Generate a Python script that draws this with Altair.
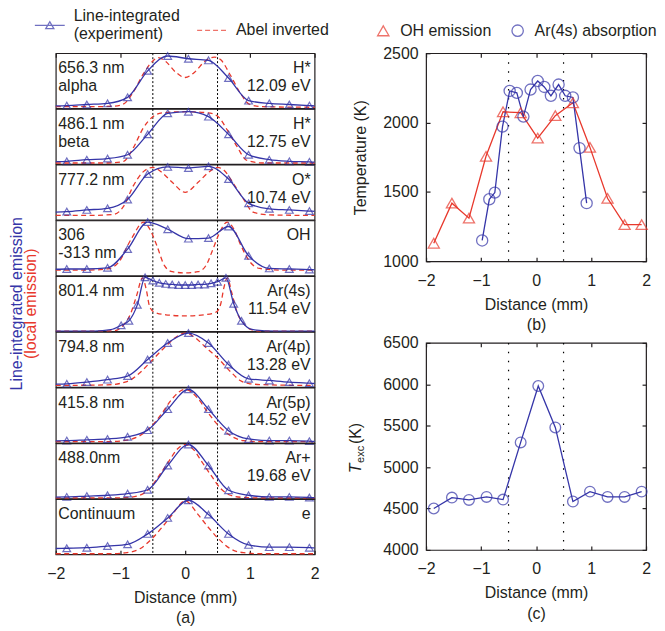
import altair as alt
import pandas as pd

FONT = "Liberation Sans"
INK = "#231f20"
BLUE = "#3535a8"
RED = "#e8382c"

x_ticks = [-2, -1, 0, 1, 2]
guide_x = [-0.5, 0.5]

LINE_LABEL = "Line-integrated (experiment)"
ABEL_LABEL = "Abel inverted"
OH_LABEL = "OH emission"
AR_LABEL = "Ar(4s) absorption"

left_labels = [["656.3 nm", "alpha"], ["486.1 nm", "beta"], ["777.2 nm"], ["306", "-313 nm"],
               ["801.4 nm"], ["794.8 nm"], ["415.8 nm"], ["488.0nm"], ["Continuum"]]
right_labels = [["H*", "12.09 eV"], ["H*", "12.75 eV"], ["O*", "10.74 eV"], ["OH"],
                ["Ar(4s)", "11.54  eV"], ["Ar(4p)", "13.28 eV"], ["Ar(5p)", "14.52 eV"],
                ["Ar+", "19.68 eV"], ["e"]]

# marker positions (mm) of the line-integrated profiles
marker_x = [-1.83, -1.52, -1.2, -0.89, -0.58, -0.27, 0.05, 0.36, 0.67, 0.98, 1.3, 1.61, 1.92]
marker_x_ar4s = [-0.99, -0.87, -0.74, -0.62, -0.5, -0.4, -0.3, -0.2, -0.1, 0.0, 0.1, 0.2,
                 0.3, 0.4, 0.5, 0.63, 0.75, 0.87]

# line-integrated (normalised) values at the markers
blue_656 = [0.05, 0.07, 0.09, 0.2, 0.68, 0.95, 0.9, 0.87, 0.55, 0.14, 0.09, 0.07, 0.05]
blue_486 = [0.05, 0.08, 0.1, 0.17, 0.54, 0.92, 0.95, 0.86, 0.54, 0.17, 0.08, 0.05, 0.04]
blue_777 = [0.15, 0.18, 0.21, 0.37, 0.83, 0.96, 0.94, 0.97, 0.74, 0.3, 0.2, 0.18, 0.16]
blue_oh = [0.12, 0.12, 0.14, 0.48, 0.97, 0.84, 0.67, 0.68, 0.89, 0.36, 0.13, 0.12, 0.11]
blue_801 = [0.11, 0.19, 0.48, 0.98, 0.92, 0.88, 0.86, 0.85, 0.84, 0.84, 0.84, 0.85, 0.85,
            0.87, 0.9, 0.97, 0.5, 0.19]
blue_794 = [0.06, 0.09, 0.135, 0.2, 0.5, 0.8, 0.98, 0.8, 0.41, 0.15, 0.12, 0.09, 0.07]
blue_415 = [0.04, 0.055, 0.07, 0.11, 0.23, 0.61, 0.97, 0.61, 0.22, 0.07, 0.04, 0.04, 0.03]
blue_488 = [0.03, 0.045, 0.06, 0.09, 0.16, 0.6, 0.98, 0.6, 0.15, 0.06, 0.03, 0.03, 0.02]
blue_cont = [0.11, 0.12, 0.15, 0.18, 0.37, 0.66, 0.98, 0.72, 0.37, 0.17, 0.13, 0.13, 0.12]

# line-only points of the experimental curves (beyond the markers)
blue_extra_x = [[-2, 2], [-2, 2], [-2, 2], [-2, 2], [-2, -1.4, -1.15, 1.05, 1.4, 2],
                [-2, 2], [-2, 2], [-2, 2], [-2, 2]]
blue_extra_v = [[0.045, 0.045], [0.045, 0.035], [0.14, 0.155], [0.115, 0.105],
                [0.005, 0.005, 0.03, 0.03, 0.005, 0.005],
                [0.055, 0.065], [0.035, 0.025], [0.025, 0.015], [0.105, 0.115]]

# Abel inverted curves
red_x_656 = [-2, -1.5, -1.1, -0.95, -0.8, -0.65, -0.5, -0.42, -0.3, -0.15, 0, 0.15, 0.3, 0.45, 0.55, 0.7, 0.85, 1.0, 1.2, 2]
red_v_656 = [0.03, 0.03, 0.04, 0.08, 0.3, 0.62, 0.86, 0.92, 0.85, 0.66, 0.56, 0.66, 0.85, 0.93, 0.88, 0.6, 0.28, 0.07, 0.03, 0.02]
red_x_486 = [-2, -1.2, -0.95, -0.8, -0.65, -0.5, -0.35, 0, 0.35, 0.5, 0.65, 0.8, 0.95, 1.2, 2]
red_v_486 = [0.02, 0.02, 0.05, 0.3, 0.65, 0.86, 0.93, 0.95, 0.93, 0.87, 0.62, 0.32, 0.07, 0.02, 0.02]
red_x_777 = [-2, -1.5, -1.1, -0.95, -0.8, -0.65, -0.5, -0.35, -0.2, 0, 0.2, 0.35, 0.5, 0.6, 0.75, 0.9, 1.05, 1.3, 2]
red_v_777 = [0.08, 0.08, 0.1, 0.25, 0.62, 0.87, 0.95, 0.85, 0.68, 0.5, 0.68, 0.85, 0.95, 0.9, 0.65, 0.38, 0.14, 0.09, 0.08]
red_x_oh = [-2, -1.5, -1.2, -1.03, -0.83, -0.64, -0.55, -0.44, -0.32, -0.2, 0, 0.2, 0.32, 0.42, 0.52, 0.65, 0.75, 0.86, 1.0, 1.15, 1.5, 2]
red_v_oh = [0.1, 0.1, 0.12, 0.24, 0.67, 0.97, 0.85, 0.55, 0.18, 0.07, 0.05, 0.07, 0.18, 0.45, 0.75, 0.97, 0.85, 0.55, 0.25, 0.13, 0.1, 0.1]
red_x_801 = [-2, -1.3, -1.1, -0.95, -0.85, -0.75, -0.66, -0.6, -0.55, -0.48, -0.3, 0, 0.3, 0.48, 0.55, 0.6, 0.65, 0.72, 0.8, 0.9, 1.0, 1.15, 2]
red_v_801 = [0.005, 0.005, 0.01, 0.12, 0.3, 0.65, 0.97, 0.75, 0.45, 0.35, 0.3, 0.28, 0.3, 0.35, 0.5, 0.8, 0.97, 0.7, 0.35, 0.15, 0.04, 0.005, 0.005]
red_x_794 = [-2, -1.2, -0.9, -0.7, -0.5, -0.3, -0.15, 0, 0.15, 0.3, 0.5, 0.7, 0.85, 1.0, 1.3, 2]
red_v_794 = [0.03, 0.04, 0.1, 0.26, 0.5, 0.74, 0.9, 0.98, 0.9, 0.74, 0.53, 0.28, 0.12, 0.06, 0.04, 0.03]
red_x_415 = [-2, -1.2, -0.9, -0.7, -0.5, -0.35, -0.2, 0, 0.2, 0.35, 0.5, 0.7, 0.9, 1.2, 2]
red_v_415 = [0.02, 0.02, 0.05, 0.13, 0.33, 0.55, 0.8, 0.97, 0.8, 0.55, 0.33, 0.13, 0.04, 0.02, 0.02]
red_x_488 = [-2, -1.2, -0.9, -0.7, -0.55, -0.4, -0.25, -0.12, 0, 0.12, 0.25, 0.4, 0.55, 0.7, 0.9, 1.2, 2]
red_v_488 = [0.01, 0.01, 0.02, 0.06, 0.18, 0.42, 0.68, 0.9, 0.98, 0.9, 0.68, 0.42, 0.18, 0.06, 0.02, 0.01, 0.01]
red_x_cont = [-2, -1.2, -0.9, -0.7, -0.5, -0.35, -0.2, 0, 0.2, 0.35, 0.5, 0.7, 0.9, 1.2, 2]
red_v_cont = [0.01, 0.01, 0.03, 0.1, 0.3, 0.5, 0.72, 0.97, 0.72, 0.5, 0.3, 0.1, 0.03, 0.01, 0.01]

# panel (b)
oh_x = [-1.86, -1.53, -1.22, -0.91, -0.6, -0.28, 0.03, 0.35, 0.67, 0.98, 1.3, 1.61, 1.92]
oh_T = [1130, 1419, 1311, 1757, 2078, 2071, 1888, 2050, 2143, 1821, 1454, 1264, 1264]
ar_x = [-0.98, -0.85, -0.75, -0.61, -0.48, -0.35, -0.23, -0.10, 0.03, 0.15, 0.27, 0.41, 0.53, 0.67, 0.79, 0.92]
ar_T = [1150, 1447, 1495, 1971, 2228, 2214, 2043, 2238, 2300, 2257, 2193, 2274, 2193, 2181, 1816, 1419]
b_ticks = [1000, 1500, 2000, 2500]

# panel (c)
texc_x = [-1.86, -1.53, -1.22, -0.9, -0.6, -0.28, 0.04, 0.35, 0.67, 0.98, 1.3, 1.61, 1.92]
texc_T = [4500, 4632, 4604, 4640, 4608, 5298, 5980, 5479, 4584, 4704, 4640, 4640, 4704]
c_ticks = [4000, 4500, 5000, 5500, 6000, 6500]

marker_sets = [marker_x, marker_x, marker_x, marker_x, marker_x_ar4s, marker_x, marker_x, marker_x, marker_x]
blue_sets = [blue_656, blue_486, blue_777, blue_oh, blue_801, blue_794, blue_415, blue_488, blue_cont]
red_sets = [(red_x_656, red_v_656), (red_x_486, red_v_486), (red_x_777, red_v_777), (red_x_oh, red_v_oh),
            (red_x_801, red_v_801), (red_x_794, red_v_794), (red_x_415, red_v_415), (red_x_488, red_v_488),
            (red_x_cont, red_v_cont)]

W = 260
H = 55.4
XSCALE = alt.Scale(domain=[-2, 2], nice=False, zero=False)
VSCALE = alt.Scale(domain=[0, 1], nice=False, zero=False)

TRI_LINE = "M-1,0H1M-0.27,0.22L0,-0.24L0.27,0.22Z"
DASH_LINE = "M-1,0H1"


def x_axis(title):
    return alt.Axis(values=x_ticks, format="d", title=title, offset=-4, tickSize=4, tickColor=INK,
                    tickWidth=1.2, labelPadding=11, titlePadding=8, titleLineHeight=21, domain=False,
                    grid=False, labelFlush=False)


def mirror_axis(orient, values):
    # inward ticks on the top / right frame edges, no labels
    return alt.Axis(orient=orient, values=values, labels=False, title=None, offset=-4, tickSize=4,
                    tickColor=INK, tickWidth=1.2, domain=False, grid=False)


def left_panel(i):
    if i == 8:
        ax = x_axis(["Distance (mm)", "(a)"])
    elif i == 0:
        ax = mirror_axis("top", x_ticks)
    else:
        ax = None
    xe = alt.X("x:Q", scale=XSCALE, axis=ax)
    ye = alt.Y("v:Q", scale=VSCALE, axis=None)
    mx, mv = marker_sets[i], blue_sets[i]
    bl = pd.DataFrame({"x": mx + blue_extra_x[i], "v": mv + blue_extra_v[i]}).sort_values("x")
    mk = pd.DataFrame({"x": mx, "v": mv})
    rd = pd.DataFrame({"x": red_sets[i][0], "v": red_sets[i][1]})
    gd = pd.DataFrame({"x": guide_x})

    layers = [
        alt.Chart(gd).mark_rule(color="black", strokeDash=[2, 2], strokeWidth=1).encode(x=xe),
        alt.Chart(rd).mark_line(color=RED, strokeDash=[5, 3.5], strokeWidth=1.3,
                                interpolate="monotone").encode(x=xe, y=ye),
        alt.Chart(bl).mark_line(color=BLUE, strokeWidth=1.3, interpolate="monotone").encode(x=xe, y=ye),
        alt.Chart(mk).mark_point(shape="triangle-up", size=60, color=BLUE, filled=False,
                                 strokeWidth=1.2).encode(x=xe, y=ye),
        alt.Chart(alt.Data(values=[{"label": left_labels[i]}])).mark_text(
            align="left", baseline="alphabetic", font=FONT, fontSize=16, color=INK, lineHeight=18
        ).encode(x=alt.value(2.5), y=alt.value(20), text="label:N"),
        alt.Chart(alt.Data(values=[{"label": right_labels[i]}])).mark_text(
            align="right", baseline="alphabetic", font=FONT, fontSize=16, color=INK, lineHeight=18
        ).encode(x=alt.value(W - 4), y=alt.value(20), text="label:N"),
    ]
    if i == 0:
        leg1 = alt.Legend(orient="none", legendX=-22, legendY=-44, title=None,
                          labelFont=FONT, labelFontSize=16, labelColor=INK, labelOffset=8,
                          padding=0, symbolSize=900, symbolStrokeWidth=1.3, labelLimit=400,
                          labelBaseline="line-bottom",
                          labelExpr="['Line-integrated', '(experiment)']")
        leg2 = alt.Legend(orient="none", legendX=141, legendY=-39, title=None,
                          labelFont=FONT, labelFontSize=16, labelColor=INK, labelOffset=8,
                          padding=0, symbolSize=900, symbolStrokeWidth=1.3, labelLimit=400,
                          symbolType=DASH_LINE, symbolStrokeColor=RED)
        lg1 = pd.DataFrame({"s": [LINE_LABEL], "x": [None], "v": [None]})
        lg2 = pd.DataFrame({"s": [ABEL_LABEL], "x": [None], "v": [None]})
        layers.append(
            alt.Chart(lg1).mark_point(filled=False, size=900, strokeWidth=1.3, color=BLUE).encode(
                x=xe, y=ye,
                shape=alt.Shape("s:N", scale=alt.Scale(domain=[LINE_LABEL], range=[TRI_LINE]), legend=leg1),
            )
        )
        layers.append(
            alt.Chart(lg2).mark_point(filled=False, size=900, strokeWidth=1.3, color=RED).encode(
                x=xe, y=ye,
                strokeDash=alt.StrokeDash("s:N", scale=alt.Scale(domain=[ABEL_LABEL], range=[[5, 3]]), legend=leg2),
            )
        )
    if i == 4:
        layers.append(alt.Chart(alt.Data(values=[{"t": "Line-integrated emission"}])).mark_text(
            angle=270, align="center", baseline="middle", font=FONT, fontSize=16, color=BLUE
        ).encode(x=alt.value(-39), y=alt.value(H / 2), text="t:N"))
        layers.append(alt.Chart(alt.Data(values=[{"t": "(local emission)"}])).mark_text(
            angle=270, align="center", baseline="middle", font=FONT, fontSize=16, color=RED
        ).encode(x=alt.value(-25), y=alt.value(H / 2), text="t:N"))
    return alt.layer(*layers).properties(width=W, height=H)


left = alt.vconcat(*[left_panel(i) for i in range(9)], spacing=0, bounds="flush")

# ---------------- panel (b)
WB = 221
HB = 209
df_b = pd.DataFrame({"x": oh_x + ar_x, "T": oh_T + ar_T,
                     "series": [OH_LABEL] * len(oh_x) + [AR_LABEL] * len(ar_x)})
yscale_b = alt.Scale(domain=[1000, 2500], nice=False, zero=False)
xb = alt.X("x:Q", scale=XSCALE, axis=x_axis(["Distance (mm)", "(b)"]))
yb = alt.Y("T:Q", scale=yscale_b,
           axis=alt.Axis(values=b_ticks, format="d", title="Temperature (K)", offset=-4, tickSize=4,
                         tickColor=INK, tickWidth=1.2, labelPadding=8, titlePadding=14, domain=False,
                         grid=False, labelFlush=False))
xb0 = alt.X("x:Q", scale=XSCALE, axis=None)
yb0 = alt.Y("T:Q", scale=yscale_b, axis=None)
xb_top = alt.X("x:Q", scale=XSCALE, axis=mirror_axis("top", x_ticks))
yb_right = alt.Y("T:Q", scale=yscale_b, axis=mirror_axis("right", b_ticks))
leg_b = alt.Legend(orient="none", legendX=-51, legendY=-31, direction="horizontal", title=None,
                   labelFont=FONT, labelFontSize=16, labelColor=INK, labelOffset=9, columnPadding=17,
                   padding=0, symbolSize=130, symbolStrokeWidth=1.3)
guides_b = alt.Chart(pd.DataFrame({"x": guide_x})).mark_rule(
    color="black", strokeDash=[1.5, 7.5], strokeWidth=1.2).encode(x=xb0)
line_oh = alt.Chart(df_b).transform_filter(alt.datum.series == OH_LABEL).mark_line(
    color=RED, strokeWidth=1.3).encode(x=xb, y=yb)
line_ar = alt.Chart(df_b).transform_filter(alt.datum.series == AR_LABEL).mark_line(
    color=BLUE, strokeWidth=1.3).encode(x=xb0, y=yb0)
pts_b = alt.Chart(df_b).mark_point(filled=False, size=125, strokeWidth=1.3).encode(
    x=xb_top, y=yb_right,
    color=alt.Color("series:N", scale=alt.Scale(domain=[OH_LABEL, AR_LABEL], range=[RED, BLUE]), legend=leg_b),
    shape=alt.Shape("series:N", scale=alt.Scale(domain=[OH_LABEL, AR_LABEL], range=["triangle-up", "circle"]), legend=leg_b),
)
panel_b = alt.layer(guides_b, line_oh, line_ar, pts_b).resolve_axis(
    x="independent", y="independent").properties(width=WB, height=HB)

# ---------------- panel (c)
HC = 208
df_c = pd.DataFrame({"x": texc_x, "T": texc_T})
yscale_c = alt.Scale(domain=[4000, 6500], nice=False, zero=False)
xc = alt.X("x:Q", scale=XSCALE, axis=x_axis(["Distance (mm)", "(c)"]))
yc = alt.Y("T:Q", scale=yscale_c,
           axis=alt.Axis(values=c_ticks, format="d", title=None, offset=-4, tickSize=4,
                         tickColor=INK, tickWidth=1.2, labelPadding=8, domain=False,
                         grid=False, labelFlush=False))
xc0 = alt.X("x:Q", scale=XSCALE, axis=None)
xc_top = alt.X("x:Q", scale=XSCALE, axis=mirror_axis("top", x_ticks))
yc_right = alt.Y("T:Q", scale=yscale_c, axis=mirror_axis("right", c_ticks))
guides_c = alt.Chart(pd.DataFrame({"x": guide_x})).mark_rule(
    color="black", strokeDash=[1.5, 7.5], strokeWidth=1.2).encode(x=xc0)
line_c = alt.Chart(df_c).mark_line(color=BLUE, strokeWidth=1.3).encode(x=xc, y=yc)
pts_c = alt.Chart(df_c).mark_point(shape="circle", filled=False, size=115, strokeWidth=1.3,
                                   color=BLUE).encode(x=xc_top, y=yc_right)
t_main = alt.Chart(alt.Data(values=[{"t": "T"}])).mark_text(
    angle=270, align="center", baseline="middle", font=FONT, fontSize=16, fontStyle="italic", color=INK
).encode(x=alt.value(-70), y=alt.value(126), text="t:N")
t_sub = alt.Chart(alt.Data(values=[{"t": "exc"}])).mark_text(
    angle=270, align="center", baseline="middle", font=FONT, fontSize=11, color=INK
).encode(x=alt.value(-65), y=alt.value(112), text="t:N")
t_unit = alt.Chart(alt.Data(values=[{"t": "(K)"}])).mark_text(
    angle=270, align="center", baseline="middle", font=FONT, fontSize=16, color=INK
).encode(x=alt.value(-70), y=alt.value(91), text="t:N")
panel_c = alt.layer(guides_c, line_c, pts_c, t_main, t_sub, t_unit).resolve_axis(
    x="independent", y="independent").properties(width=WB, height=HC)

right = alt.vconcat(panel_b, panel_c, spacing=82, bounds="flush")

# with flush bounds the nested left column counts as zero width, so the spacing
# carries the left panel width (260) plus the gap (112)
chart = alt.hconcat(left, right, spacing=372, bounds="flush").resolve_scale(
    color="independent", shape="independent", strokeDash="independent"
).resolve_legend(
    color="independent", shape="independent", strokeDash="independent"
).properties(padding=0).configure_view(
    stroke=INK, strokeWidth=1.2
).configure_axis(
    labelFont=FONT, titleFont=FONT, labelFontSize=16, titleFontSize=16, labelColor=INK,
    titleColor=INK, titleFontWeight="normal"
)

chart.save("out.html", embed_options={"renderer": "svg", "actions": False})
